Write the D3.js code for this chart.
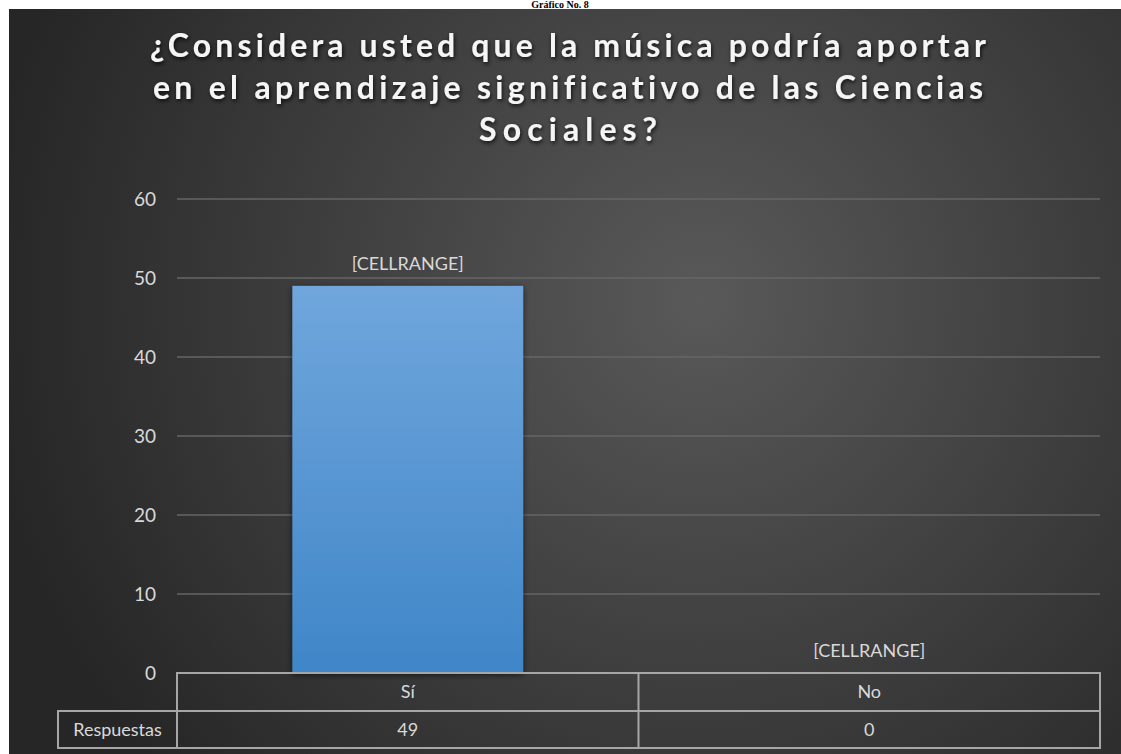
<!DOCTYPE html>
<html><head><meta charset="utf-8">
<script src="https://cdn.jsdelivr.net/npm/d3@7"></script>
<style>body{margin:0;background:#fff;overflow:hidden}svg{display:block}text{font-variant-ligatures:none}</style>
</head><body>
<script>
const categories = ["Sí", "No"];
const values = [49, 0];
const seriesName = "Respuestas";
const dataLabels = ["[CELLRANGE]", "[CELLRANGE]"];
const yTicks = [0, 10, 20, 30, 40, 50, 60];
const titleLines = ["¿Considera usted que la música podría aportar", "en el aprendizaje significativo de las Ciencias", "Sociales?"];
const caption = "Gráfico No. 8";

const W = 1121, H = 754;
const FONT = "Lato";
const svg = d3.select("body").append("svg").attr("width", W).attr("height", H);
const defs = svg.append("defs");
const bg = defs.append("radialGradient").attr("id","bg").attr("gradientUnits","userSpaceOnUse")
  .attr("cx",700).attr("cy",300).attr("r",720);
bg.append("stop").attr("offset","0%").attr("stop-color","#595959");
bg.append("stop").attr("offset","100%").attr("stop-color","#262626");
const bar = defs.append("linearGradient").attr("id","bar").attr("x1",0).attr("y1",0).attr("x2",0).attr("y2",1);
bar.append("stop").attr("offset","0%").attr("stop-color","#70a6dc");
bar.append("stop").attr("offset","100%").attr("stop-color","#3f86c8");
const sh = defs.append("filter").attr("id","sh").attr("x","-20%").attr("y","-20%").attr("width","140%").attr("height","140%");
sh.append("feDropShadow").attr("dx",0).attr("dy",2).attr("stdDeviation",3).attr("flood-color","#000").attr("flood-opacity",0.6);
const tsh = defs.append("filter").attr("id","tsh").attr("x","-10%").attr("y","-30%").attr("width","120%").attr("height","160%");
tsh.append("feDropShadow").attr("dx",1).attr("dy",2).attr("stdDeviation",2).attr("flood-color","#000").attr("flood-opacity",0.8);

// caption (small strip above the chart)
svg.append("text").attr("x",560).attr("y",8).attr("text-anchor","middle")
  .attr("font-family","Liberation Serif").attr("font-weight","bold").attr("font-size",10).attr("fill","#000").text(caption);

svg.append("rect").attr("x",9).attr("y",9).attr("width",W-9).attr("height",H-9).attr("fill","url(#bg)");

// title
const tw = [836, 830, 178];
const tb = [57, 99, 141];
titleLines.forEach((t,i)=>{
  svg.append("text").attr("x",568).attr("y",tb[i]).attr("text-anchor","middle")
    .attr("font-family",FONT).attr("font-weight","bold").attr("font-size",32)
    .attr("fill","#f5f5f5").attr("filter","url(#tsh)")
    .attr("textLength",tw[i]).attr("lengthAdjust","spacing").text(t);
});

const x0 = 177, x1 = 1100;
const y = d3.scaleLinear().domain([0,60]).range([673,199]);
const x = d3.scaleBand().domain(categories).range([x0,x1]).paddingInner(0.5).paddingOuter(0.25);

// gridlines
svg.append("g").selectAll("line").data(yTicks.filter(d=>d>0)).join("line")
  .attr("x1",x0).attr("x2",x1).attr("y1",d=>y(d)).attr("y2",d=>y(d))
  .attr("stroke","#666").attr("stroke-width",1.3);

// y axis labels
const yAxis = d3.axisLeft(y).tickValues(yTicks).tickSize(0).tickPadding(0);
const ga = svg.append("g").attr("transform","translate(156,0)").call(yAxis);
ga.select(".domain").remove();
ga.selectAll("text").attr("font-family",FONT).attr("font-size",19).attr("fill","#d9d9d9").attr("dy","0.35em");

// bars
svg.append("g").selectAll("rect").data(values).join("rect")
  .attr("x",(d,i)=>x(categories[i])).attr("width",x.bandwidth())
  .attr("y",d=>y(d)).attr("height",d=>y(0)-y(d))
  .attr("fill","url(#bar)").attr("filter","url(#sh)");

// data labels
svg.append("g").selectAll("text").data(values).join("text")
  .attr("x",(d,i)=>x(categories[i])+x.bandwidth()/2).attr("y",d=>y(d)-16)
  .attr("text-anchor","middle").attr("font-family",FONT).attr("font-size",18).attr("fill","#d9d9d9")
  .text((d,i)=>dataLabels[i]);

// data table
const rowTop = 673, rowMid = 711, rowBot = 748, labelLeft = 58;
const cw = (x1-x0)/categories.length;
const tg = svg.append("g").attr("stroke","#a6a6a6").attr("stroke-width",2).attr("fill","none");
tg.append("path").attr("d",`M${x0},${rowBot}V${rowTop}H${x1}V${rowBot}H${labelLeft}V${rowMid}H${x1}`);
categories.forEach((c,i)=>{ if(i>0) tg.append("line").attr("x1",x0+cw*i).attr("x2",x0+cw*i).attr("y1",rowTop).attr("y2",rowBot); });
const tt = svg.append("g").attr("font-family",FONT).attr("font-size",18).attr("fill","#d9d9d9").attr("text-anchor","middle");
categories.forEach((c,i)=>{
  tt.append("text").attr("x",x0+cw*(i+0.5)).attr("y",(rowTop+rowMid)/2).attr("dy","0.35em").text(c);
  tt.append("text").attr("x",x0+cw*(i+0.5)).attr("y",(rowMid+rowBot)/2).attr("dy","0.35em").text(values[i]);
});
tt.append("text").attr("x",(labelLeft+x0)/2).attr("y",(rowMid+rowBot)/2).attr("dy","0.35em").text(seriesName);
</script>
</body></html>
